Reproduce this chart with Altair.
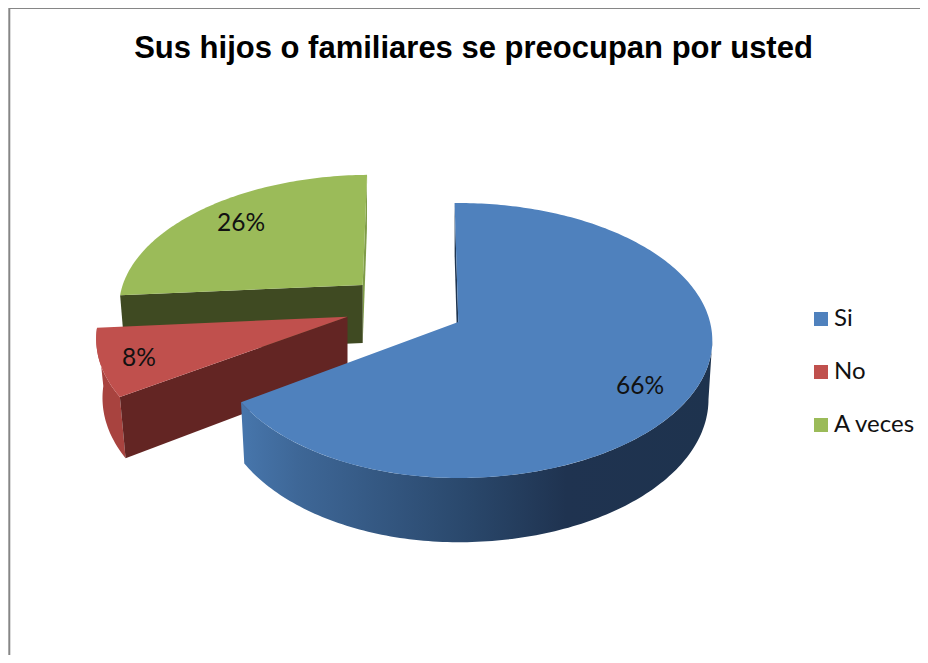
import math
import altair as alt
import pandas as pd

TITLE = "Sus hijos o familiares se preocupan por usted"
CATEGORIES = ["Si", "No", "A veces"]
PERCENTS = [66, 8, 26]
COLORS = ["#4F81BD", "#C0504D", "#9BBB59"]

# page -> plot offset (8px body margin)
OFF = 8
START_ANGLE = -1.0
K = 0.1345
DEPTH = 58.0
DEPTH_GROW = 1.04

# apex position, x radius (left, right), y radius, lower-plane x shrink (left, right), skew
GEOM = {
    "Si": dict(ax=458.3, ay=322.0, al=241.0, ar=251.7, b=135.0, sl=0.985, sr=0.985, sk=0.0),
    "No": dict(ax=347.5, ay=316.7, al=248.0, ar=248.0, b=135.0, sl=0.975, sr=0.975, sk=-0.05),
    "A veces": dict(ax=362.7, ay=285.0, al=240.0, ar=240.0, b=125.0, sl=0.98, sr=0.98, sk=-0.073),
}
LABEL_POS = {"Si": (640, 387), "No": (139, 359), "A veces": (241, 224)}


def top(g, deg):
    t = math.radians(deg)
    u, v = math.sin(t), -math.cos(t)
    w = 1 - K * v
    a = g["al"] if u < 0 else g["ar"]
    dy = g["b"] * v / w
    return (g["ax"] + a * u / w + g["sk"] * dy, g["ay"] + dy)


def low(g, p):
    s = g["sl"] if p[0] < g["ax"] else g["sr"]
    return (g["ax"] + s * (p[0] - g["ax"]), g["ay"] + DEPTH + DEPTH_GROW * (p[1] - g["ay"]))


def feature(pts, cat):
    ring = [[x - OFF, y - OFF] for x, y in pts]
    ring.append(ring[0])
    return {
        "type": "Feature",
        "properties": {"cat": cat},
        "geometry": {"type": "Polygon", "coordinates": [ring]},
    }


def arc(g, a0, a1):
    n = max(8, int(abs(a1 - a0)))
    return [top(g, a0 + (a1 - a0) * i / n) for i in range(n + 1)]


spans = {}
cur = START_ANGLE
for c, p in zip(CATEGORIES, PERCENTS):
    spans[c] = (cur, cur + p * 3.6)
    cur += p * 3.6


def shape(pts, cat, fill=None):
    ch = alt.Chart(alt.Data(values=[feature(pts, cat)]))
    if fill is None:
        ch = ch.mark_geoshape(strokeWidth=0).encode(
            color=alt.Color(
                "properties.cat:N",
                scale=alt.Scale(domain=CATEGORIES, range=COLORS),
                legend=alt.Legend(
                    title=None,
                    orient="none",
                    legendX=801,
                    legendY=299,
                    symbolType="square",
                    symbolSize=196,
                    symbolStrokeWidth=0,
                    labelFont="Lato",
                    labelFontSize=24,
                    labelColor="#111111",
                    labelOffset=1,
                    rowPadding=29,
                    labelLimit=200,
                ),
            )
        )
    else:
        ch = ch.mark_geoshape(fill=fill, strokeWidth=0)
    return ch.project(type="identity", scale=1, translate=[0, 0])


layers = []

# A veces
g = GEOM["A veces"]
a0, a1 = spans["A veces"]
p_left = top(g, a0)
p_end = top(g, a1)
apex = (g["ax"], g["ay"])
layers.append(shape([p_end, apex, low(g, apex), low(g, p_end)], "A veces", "#7F9C48"))
layers.append(shape([apex, p_left, low(g, p_left), low(g, apex)], "A veces", "#3F4A22"))
layers.append(shape([apex] + arc(g, a0, a1), "A veces"))

# No
g = GEOM["No"]
a0, a1 = spans["No"]
p_near = top(g, a0)
apex = (g["ax"], g["ay"])
rim = arc(g, a0, a1)
layers.append(shape(rim + [low(g, p) for p in reversed(rim)], "No", "#A8433F"))
layers.append(shape([apex, p_near, low(g, p_near), low(g, apex)], "No", "#632523"))
layers.append(shape([apex] + rim, "No"))

# Si
g = GEOM["Si"]
a0, a1 = spans["Si"]
p_start = top(g, a0)
apex = (g["ax"], g["ay"])
rim = arc(g, a0, a1)
# the visible outer wall starts where the rim turns back towards the viewer
tangent = 90 + math.degrees(math.asin(K))
wall = arc(g, tangent, a1)
layers.append(shape([p_start, apex, low(g, apex), low(g, p_start)], "Si", "#1F3550"))
blue_side = alt.Gradient(
    gradient="linear",
    x1=0, x2=1, y1=0, y2=0,
    stops=[
        alt.GradientStop(offset=0.0, color="#4776AC"),
        alt.GradientStop(offset=0.12, color="#3E6797"),
        alt.GradientStop(offset=0.475, color="#2A486C"),
        alt.GradientStop(offset=0.69, color="#1F3350"),
        alt.GradientStop(offset=1.0, color="#1E334E"),
    ],
)
layers.append(shape(wall + [low(g, p) for p in reversed(wall)], "Si", blue_side))
layers.append(shape([apex] + rim, "Si"))

labels = pd.DataFrame(
    {
        "label": [f"{p}%" for p in PERCENTS],
        "px": [LABEL_POS[c][0] - OFF for c in CATEGORIES],
        "py": [LABEL_POS[c][1] - OFF for c in CATEGORIES],
    }
)
text = alt.Chart(labels).mark_text(
    font="Lato", fontSize=24.5, color="#111111", align="center", baseline="middle"
).encode(
    x=alt.X("px:Q", scale=None),
    y=alt.Y("py:Q", scale=None),
    text="label:N",
)

frame_left = alt.Chart(pd.DataFrame({"a": [0]})).mark_rule(color="#868686", strokeWidth=2).encode(
    x=alt.value(1.3), y=alt.value(0), y2=alt.value(647)
)
frame_top = alt.Chart(pd.DataFrame({"a": [0]})).mark_rule(color="#868686", strokeWidth=2).encode(
    x=alt.value(1.3), x2=alt.value(912), y=alt.value(0)
)

chart = alt.layer(frame_left, frame_top, *layers, text).properties(
    width=912,
    height=647,
    padding=0,
    autosize=alt.AutoSizeParams(type="none"),
    background="white",
    title=alt.TitleParams(
        TITLE,
        font="Liberation Sans",
        fontSize=31,
        fontWeight="bold",
        color="#000000",
        anchor="middle",
        dx=9.5,
        dy=62,
    ),
).configure_view(stroke=None)

chart.save("out.html", embed_options={"renderer": "svg", "actions": False})
